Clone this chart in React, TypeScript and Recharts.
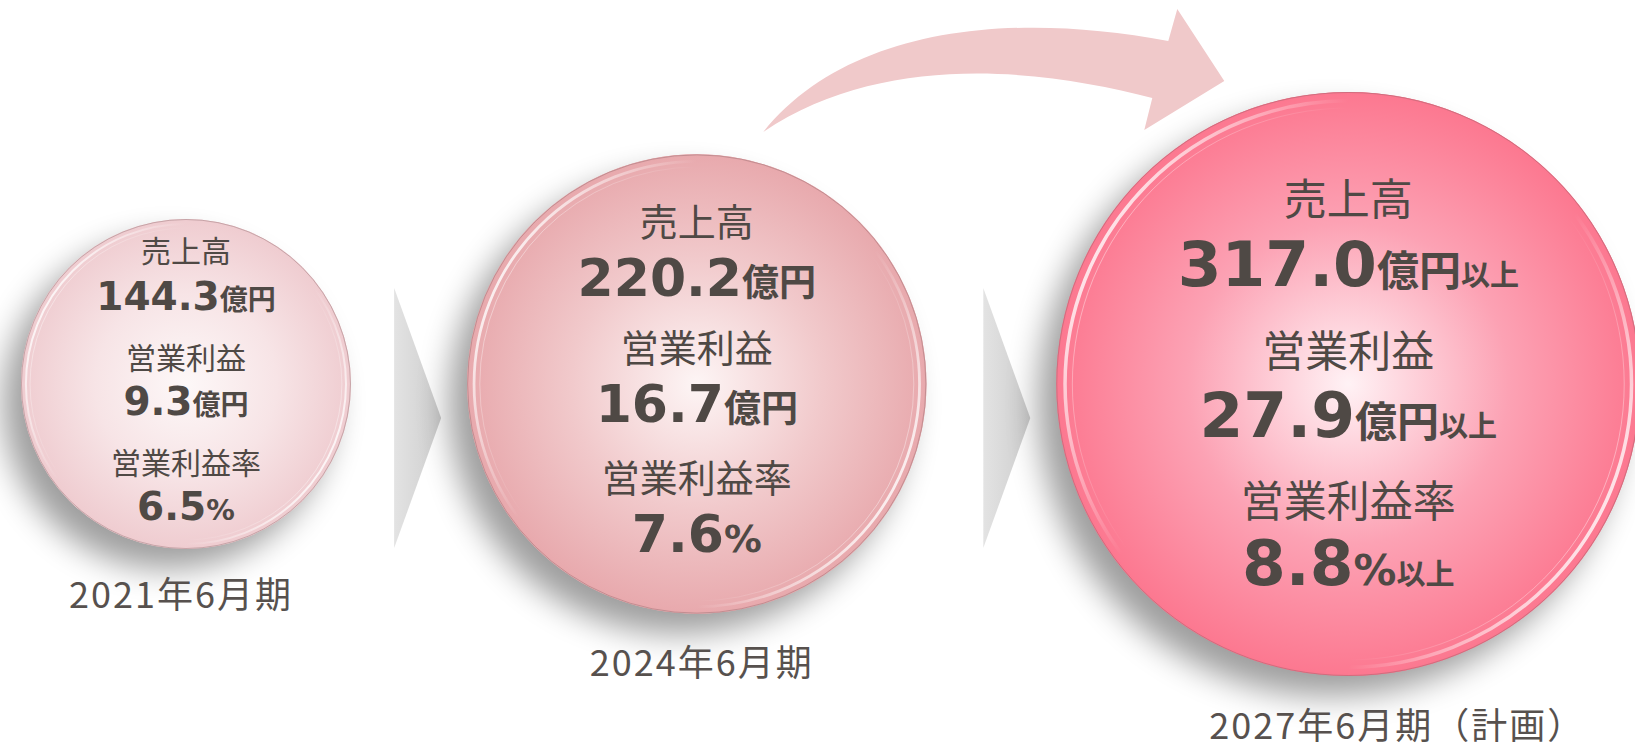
import React from 'react';
import { ScatterChart, Scatter, XAxis, YAxis, ZAxis } from 'recharts';

// ---------- data ----------
const periods = ['2021年6月期', '2024年6月期', '2027年6月期（計画）'];
const revenue = [144.3, 220.2, 317.0]; // 売上高 (億円)
const operatingProfit = [9.3, 16.7, 27.9]; // 営業利益 (億円)
const operatingMargin = [6.5, 7.6, 8.8]; // 営業利益率 (%)
const isPlan = [false, false, true];
const metricLabels = ['売上高', '営業利益', '営業利益率'];
const metricUnits = ['億円', '億円', '%'];
const planSuffix = '以上';

const table = periods.map((period, i) => ({
  idx: i,
  period,
  revenue: revenue[i],
  profit: operatingProfit[i],
  margin: operatingMargin[i],
  plan: isPlan[i],
  row: 0,
}));

// ---------- layout / style ----------
const W = 1635;
const H = 750;
const X_DOMAIN: [number, number] = [116.67, 359.6];
const Z_RANGE: [number, number] = [Math.PI * 165 * 165, Math.PI * 292 * 292];
const TEXT = '#4f4945';
const CJK = "'Noto Sans CJK JP', 'Noto Sans CJK SC', sans-serif";
const LATIN_BOLD = "'DejaVu Sans', Verdana, sans-serif";
const PERIOD_FS = 36;

const STYLES = [
  {
    center: '#fdf8f8', mid: '#f7e4e6', edge: '#efccd0',
    labelFs: 30, valueFs: 39, unitFs: 28, suffixFs: 20,
    labelY: [-133, -26, 79], valueY: [-88, 17, 122],
    periodGap: 46, periodDx: -5,
  },
  {
    center: '#fdf5f5', mid: '#f1c9cb', edge: '#e8a9ad',
    labelFs: 38, valueFs: 52, unitFs: 37, suffixFs: 25,
    labelY: [-162, -36, 94], valueY: [-107, 19, 149],
    periodGap: 49, periodDx: 5,
  },
  {
    center: '#fff2f5', mid: '#fca2b4', edge: '#fc7890',
    labelFs: 43, valueFs: 63, unitFs: 42, suffixFs: 29,
    labelY: [-185, -33, 117], valueY: [-121, 30, 178],
    periodGap: 50, periodDx: 49,
  },
];

function Bubble(props: any) {
  const { cx, cy, payload } = props;
  if (cx == null || cy == null || !payload) return null;
  const r = props.width ? props.width / 2 : Math.sqrt((props.size || 64) / Math.PI);
  const i: number = payload.idx;
  const s = STYLES[i];
  const id = `bub${i}`;
  const values = [payload.revenue, payload.profit, payload.margin];

  // chevron to the left of circles after the first
  const tipX = cx - r - 26;
  const tipY = cy + 34;
  const chev = `${tipX - 47},${tipY - 130} ${tipX},${tipY} ${tipX - 47},${tipY + 130}`;

  // curved arrow pointing at the planned circle
  const p = (dx: number, dy: number) => `${cx + dx},${cy + dy}`;
  const arrow =
    `M${p(-585, -252)} C${p(-503, -354)} ${p(-343, -374)} ${p(-180, -343)} ` +
    `L${p(-171, -375)} L${p(-124, -303)} L${p(-204, -254)} L${p(-196, -286)} ` +
    `C${p(-303, -314)} ${p(-463, -334)} ${p(-585, -252)} Z`;

  return (
    <g>
      <defs>
        <radialGradient id={`${id}-fill`} cx="50%" cy="50%" r="50%">
          <stop offset="0%" stopColor={s.center} />
          <stop offset="55%" stopColor={s.mid} />
          <stop offset="100%" stopColor={s.edge} />
        </radialGradient>
        <linearGradient id={`${id}-rim`} x1="0" y1="0.25" x2="1" y2="0.75">
          <stop offset="0%" stopColor="#ffffff" stopOpacity={0.95} />
          <stop offset="30%" stopColor="#ffffff" stopOpacity={0} />
          <stop offset="70%" stopColor="#ffffff" stopOpacity={0} />
          <stop offset="100%" stopColor="#ffffff" stopOpacity={0.95} />
        </linearGradient>
        <linearGradient id={`${id}-chev`} x1="0" y1="0" x2="1" y2="0">
          <stop offset="0%" stopColor="#e3e3e3" />
          <stop offset="100%" stopColor="#cdcdcd" />
        </linearGradient>
        <filter id={`${id}-shadow`} x="-50%" y="-50%" width="200%" height="200%">
          <feGaussianBlur stdDeviation={16} />
        </filter>
      </defs>

      {i > 0 && <polygon points={chev} fill={`url(#${id}-chev)`} />}
      {payload.plan && <path d={arrow} fill="#f0c9ca" />}

      <circle cx={cx - 18} cy={cy + 20} r={r} fill="#000" opacity={0.38} filter={`url(#${id}-shadow)`} />
      <circle cx={cx} cy={cy} r={r} fill={`url(#${id}-fill)`} />
      <circle cx={cx} cy={cy} r={r - 1} fill="none" stroke={s.edge} strokeWidth={2} />
      <circle cx={cx} cy={cy} r={r - 0.5} fill="none" stroke="#7a5a5c" strokeOpacity={0.35} strokeWidth={1} />
      <circle cx={cx} cy={cy} r={r * 0.97} fill="none" stroke={`url(#${id}-rim)`} strokeWidth={Math.max(2, r * 0.012)} />
      <circle cx={cx} cy={cy} r={r * 0.945} fill="none" stroke={`url(#${id}-rim)`} strokeOpacity={0.5} strokeWidth={1} />

      {metricLabels.map((label, k) => (
        <text
          key={`l${k}`}
          x={cx}
          y={cy + s.labelY[k] + 0.38 * s.labelFs}
          textAnchor="middle"
          fontFamily={CJK}
          fontSize={s.labelFs}
          fill={TEXT}
        >
          {label}
        </text>
      ))}
      {values.map((v: number, k: number) => {
        const unit = metricUnits[k];
        const isPct = unit === '%';
        return (
          <text
            key={`v${k}`}
            x={cx}
            y={cy + s.valueY[k] + 0.3645 * s.valueFs}
            textAnchor="middle"
            fill={TEXT}
            fontWeight="bold"
          >
            <tspan fontFamily={LATIN_BOLD} fontSize={s.valueFs}>{v.toFixed(1)}</tspan>
            <tspan fontFamily={isPct ? LATIN_BOLD : CJK} fontSize={isPct ? s.unitFs * 1.02 : s.unitFs}>{unit}</tspan>
            {payload.plan && (
              <tspan fontFamily={CJK} fontSize={s.suffixFs}>{planSuffix}</tspan>
            )}
          </text>
        );
      })}
      <text
        x={cx + s.periodDx}
        y={cy + r + s.periodGap + 0.37 * PERIOD_FS}
        textAnchor="middle"
        fontFamily={CJK}
        fontSize={PERIOD_FS}
        letterSpacing={2}
        fill="#57514e"
      >
        {payload.period}
      </text>
    </g>
  );
}

export default function App() {
  return (
    <div style={{ position: 'absolute', left: 0, top: 0, width: W, height: H, background: '#ffffff' }}>
      <ScatterChart width={W} height={H} margin={{ top: 18, right: 0, bottom: 0, left: 0 }}>
        <XAxis type="number" dataKey="revenue" domain={X_DOMAIN} hide />
        <YAxis type="number" dataKey="row" domain={[-1, 1]} hide />
        <ZAxis
          type="number"
          dataKey="revenue"
          domain={[Math.min(...revenue), Math.max(...revenue)]}
          range={Z_RANGE}
        />
        <Scatter data={table} shape={(p: any) => <Bubble {...p} />} isAnimationActive={false} />
      </ScatterChart>
    </div>
  );
}
